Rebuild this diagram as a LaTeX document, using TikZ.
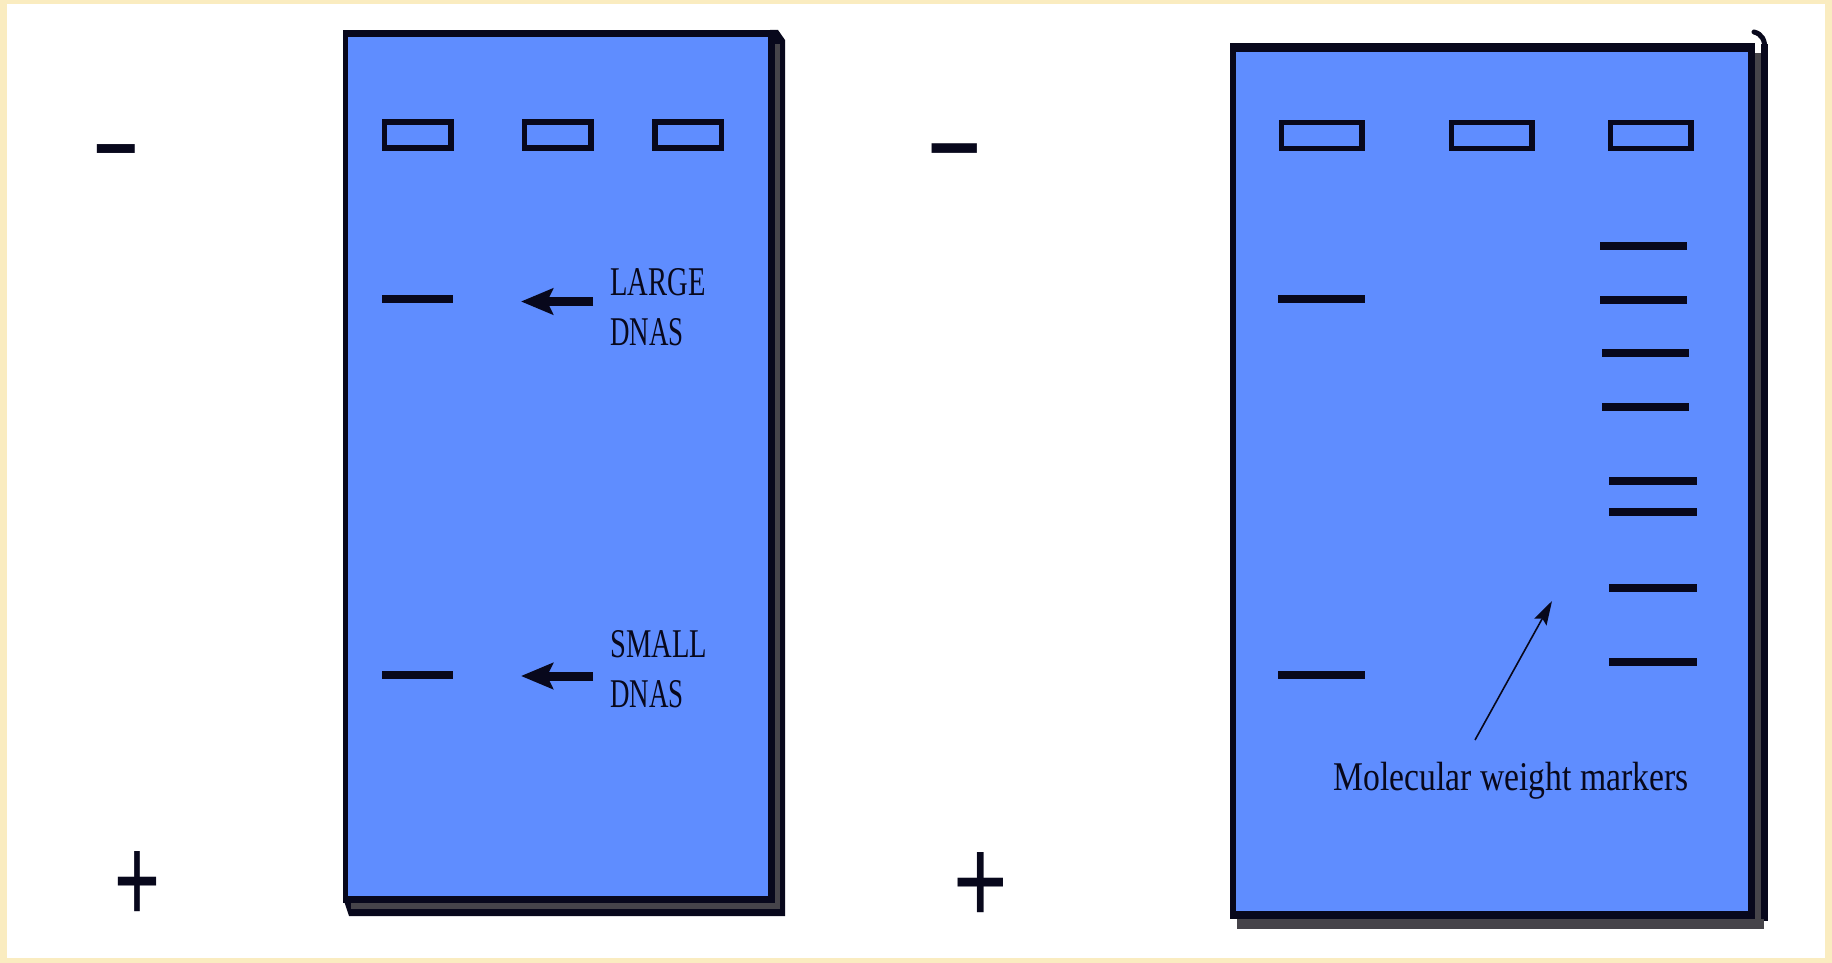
\documentclass[tikz,border=0pt]{standalone}
\usepackage{fontspec}
\setmainfont{Liberation Serif}
\newfontfamily\signfont{Liberation Sans}
\usetikzlibrary{arrows.meta}
\definecolor{gelblue}{RGB}{95,141,255}
\definecolor{shadowgrey}{RGB}{70,68,74}
\definecolor{framebeige}{RGB}{250,236,192}
\definecolor{ink}{RGB}{8,8,28}
\tikzset{
  well/.style={draw=ink, fill=gelblue, line width=2.75pt, inner sep=0pt, minimum height=13pt},
  band/.style={fill=ink, inner sep=0pt, minimum height=4pt},
  gellabel/.style={inner sep=0pt, anchor=base west, text=ink, font=\fontsize{20.4pt}{24pt}\selectfont},
  bigarrow/.style={draw=ink, line width=4.5pt, -{Stealth[length=16pt,width=13pt,inset=3pt]}},
  thinarrow/.style={draw=ink, line width=0.8pt, -{Stealth[length=12pt,width=7pt,inset=2pt]}},
  sign/.style={inner sep=0pt, anchor=base, text=ink}
}
\begin{document}
\begin{tikzpicture}[x=0.5pt,y=-0.5pt]
\useasboundingbox (0,0) rectangle (1832,963);
% background and frame
\fill[framebeige] (0,0) rectangle (1832,963);
\fill[white] (7,4) rectangle (1825,958);

% ---------------- left gel ----------------
\fill[ink] (343,898) -- (349,916) -- (785,916) -- (785,40) -- (778,30) -- (770,30) -- cycle;
\fill[shadowgrey] (775,44) rectangle (780,909);
\fill[shadowgrey] (351,903) rectangle (780,909);
\fill[ink] (343,30) rectangle (775,903);
\fill[gelblue] (348,37) rectangle (768,896);

\node[well, minimum width=33.25pt] (lw1) at (417.5,135) {};
\node[well, minimum width=33.25pt] (lw2) at (557.5,135) {};
\node[well, minimum width=33.25pt] (lw3) at (688,135) {};

\node[band, minimum width=35.5pt] (lb1) at (417.5,299) {};
\node[band, minimum width=35.5pt] (lb2) at (417.5,675) {};

\coordinate (la1t) at (593,301.5);
\coordinate (la1h) at (521,301.5);
\draw[bigarrow] (la1t) -- (la1h);
\coordinate (la2t) at (593,676);
\coordinate (la2h) at (521,676);
\draw[bigarrow] (la2t) -- (la2h);

\node[gellabel] (large) at (610,295) {\scalebox{0.70}[1]{LARGE}};
\node[gellabel] (dnas1) at (610,345) {\scalebox{0.66}[1]{DNAS}};
\node[gellabel] (small) at (610,657) {\scalebox{0.70}[1]{SMALL}};
\node[gellabel] (dnas2) at (610,707) {\scalebox{0.66}[1]{DNAS}};

% ---------------- right gel ----------------
\fill[ink] (1761,44) rectangle (1768,921);
\fill[shadowgrey] (1755,53) rectangle (1761,919);
\fill[shadowgrey] (1237,919) rectangle (1764,929);
\fill[ink] (1230,43) rectangle (1755,919);
\fill[gelblue] (1236,52) rectangle (1748,911);
\draw[ink, line width=2.5pt, line cap=round] (1754,32) .. controls (1762,34) and (1765,40) .. (1765,50);

\node[well, minimum width=40.25pt] (rw1) at (1321.5,135.5) {};
\node[well, minimum width=40.25pt] (rw2) at (1491.5,135.5) {};
\node[well, minimum width=40.25pt] (rw3) at (1650.5,135.5) {};

\node[band, minimum width=43.5pt] (rb1) at (1321.5,299) {};
\node[band, minimum width=43.5pt] (rb2) at (1321.5,675) {};

\node[band, minimum width=43.5pt] (m1) at (1643.5,245.5) {};
\node[band, minimum width=43.5pt] (m2) at (1643.5,300) {};
\node[band, minimum width=43.5pt] (m3) at (1645.5,353) {};
\node[band, minimum width=43.5pt] (m4) at (1645.5,407) {};
\node[band, minimum width=44pt] (m5) at (1653,480.5) {};
\node[band, minimum width=44pt] (m6) at (1653,512) {};
\node[band, minimum width=44pt] (m7) at (1653,588) {};
\node[band, minimum width=44pt] (m8) at (1653,662) {};

\node[gellabel] (mwm) at (1333,790) {\scalebox{0.825}[1]{Molecular weight markers}};
\coordinate (mat) at (1475,740);
\coordinate (mah) at (1552,601);
\draw[thinarrow] (mat) -- (mah);

% ---------------- polarity signs ----------------
\node[sign, font=\signfont\fontsize{39pt}{40pt}\selectfont] (lminus) at (116.5,191) {\scalebox{1}[1.6]{−}};
\node[sign, font=\signfont\fontsize{46.6pt}{48pt}\selectfont] (rminus) at (955,193) {\scalebox{1}[1.45]{−}};
\node[sign, font=\signfont\fontsize{61.5pt}{62pt}\selectfont] (lplus) at (137.5,922) {\scalebox{0.64}[1]{+}};
\node[sign, font=\signfont\fontsize{61.5pt}{62pt}\selectfont] (rplus) at (980.5,923) {\scalebox{0.76}[1]{+}};
\end{tikzpicture}
\end{document}
